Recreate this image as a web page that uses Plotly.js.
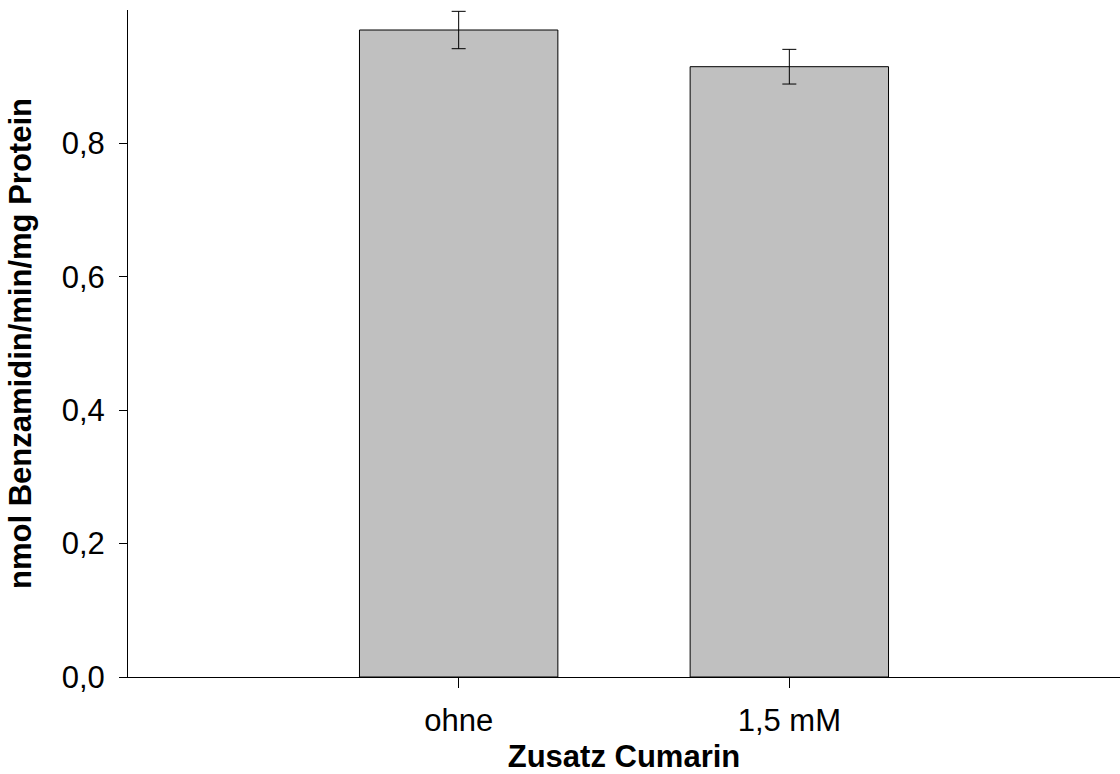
<!DOCTYPE html>
<html>
<head>
<meta charset="utf-8">
<script src="https://cdn.plot.ly/plotly-3.0.1.min.js"></script>
<style>html,body{margin:0;padding:0;background:#fff;}#chart{width:1120px;height:774px;}</style>
</head>
<body>
<div id="chart"></div>
<script>
const categories = ["ohne", "1,5 mM"];
const values = [0.970, 0.915];
const errors = [0.028, 0.026];
const yTickVals = [0, 0.2, 0.4, 0.6, 0.8];
const yTickText = ["0,0", "0,2", "0,4", "0,6", "0,8"];

const trace = {
  type: "bar",
  x: categories,
  y: values,
  width: 0.6,
  marker: {color: "#c0c0c0", line: {color: "#000000", width: 1}},
  error_y: {type: "data", array: errors, visible: true, color: "#000000", thickness: 1, width: 7},
  hoverinfo: "none"
};

const layout = {
  width: 1120, height: 774,
  margin: {l: 128, r: 0, t: 10, b: 97, pad: 0},
  paper_bgcolor: "#ffffff",
  plot_bgcolor: "#ffffff",
  showlegend: false,
  font: {family: "Liberation Sans, Arial, sans-serif", color: "#000000", size: 31},
  xaxis: {
    type: "category",
    range: [-1, 2],
    showline: true, linecolor: "#000000", linewidth: 1,
    ticks: "outside", ticklen: 10, tickcolor: "#000000", tickwidth: 1,
    showgrid: false, zeroline: false,
    tickfont: {size: 31},
    ticklabelstandoff: 6,
    title: {text: "Zusatz Cumarin", font: {size: 31, family: "Liberation Sans, Arial, sans-serif", weight: "bold"}, standoff: 13}
  },
  yaxis: {
    range: [0, 1.0],
    showline: true, linecolor: "#000000", linewidth: 1,
    ticks: "outside", ticklen: 8, tickcolor: "#000000", tickwidth: 1,
    tickvals: yTickVals, ticktext: yTickText,
    showgrid: false, zeroline: false,
    tickfont: {size: 31},
    ticklabelstandoff: 8,
    title: {text: "nmol Benzamidin/min/mg Protein", font: {size: 31, family: "Liberation Sans, Arial, sans-serif", weight: "bold"}, standoff: 20}
  }
};

Plotly.newPlot("chart", [trace], layout, {displayModeBar: false, staticPlot: true});
</script>
</body>
</html>
